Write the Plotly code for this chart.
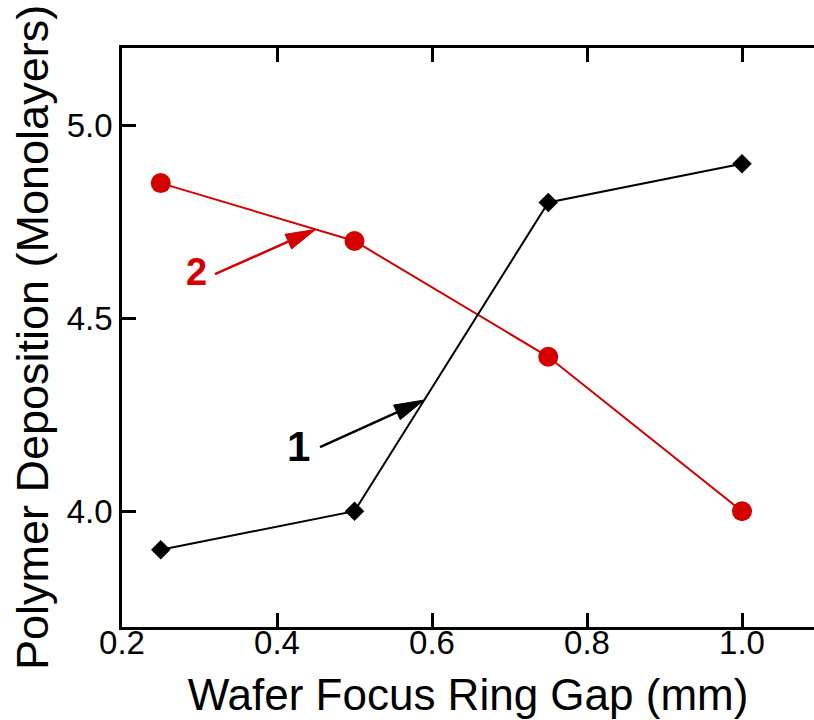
import numpy as np
import plotly.graph_objects as go

# Measured deposition vs. wafer / focus-ring gap
gap_mm = [0.25, 0.5, 0.75, 1.0]
deposition_1 = [3.9, 4.0, 4.8, 4.9]      # series 1 (black diamonds)
deposition_2 = [4.85, 4.7, 4.4, 4.0]     # series 2 (red circles)

x_ticks = [0.2, 0.4, 0.6, 0.8, 1.0]
y_ticks = [4.0, 4.5, 5.0]

# Callout labels: text position, arrow tail and arrow tip (data units)
labels = ["1", "2"]
label_xy = [(0.428, 4.168), (0.2955, 4.619)]
arrow_tail = [(0.4555, 4.166), (0.320, 4.614)]
arrow_tip = [(0.59, 4.288), (0.45, 4.73)]

RED = "#d40000"
BLACK = "#000000"
label_colors = [BLACK, RED]
label_sizes = [42, 38]

FONT = "Liberation Sans, Arial, Helvetica, sans-serif"
W, H = 814, 720
ML, MR, MT, MB = 122, 0, 48, 93
X_RANGE = [0.2, 0.2 + (W - ML - MR) / 775.0]
Y_RANGE = [3.7, 5.2]

# pixel scale of each axis, used to keep arrowheads undistorted
kx = (W - ML - MR) / (X_RANGE[1] - X_RANGE[0])
ky = (H - MT - MB) / (Y_RANGE[1] - Y_RANGE[0])

fig = go.Figure()

fig.add_trace(go.Scatter(
    x=gap_mm, y=deposition_2, mode="lines+markers",
    line=dict(color=RED, width=2),
    marker=dict(symbol="circle", size=20, color=RED),
    hoverinfo="skip",
))
fig.add_trace(go.Scatter(
    x=gap_mm, y=deposition_1, mode="lines+markers",
    line=dict(color=BLACK, width=2),
    marker=dict(symbol="diamond", size=15, color=BLACK),
    hoverinfo="skip",
))

# Arrows: shaft plus a slender filled head, built in pixel space
HEAD_LEN, HEAD_W = 30.0, 16.0
for (tx, ty), (hx, hy), col in zip(arrow_tail, arrow_tip, label_colors):
    dxp, dyp = (hx - tx) * kx, (hy - ty) * ky
    n = np.hypot(dxp, dyp)
    ux, uy = dxp / n, dyp / n
    bx, by = hx - HEAD_LEN * ux / kx, hy - HEAD_LEN * uy / ky
    px, py = -uy * HEAD_W / 2, ux * HEAD_W / 2
    fig.add_trace(go.Scatter(
        x=[tx, bx + 0.3 * HEAD_LEN * ux / kx], y=[ty, by + 0.3 * HEAD_LEN * uy / ky],
        mode="lines", line=dict(color=col, width=2.5), hoverinfo="skip",
    ))
    fig.add_trace(go.Scatter(
        x=[hx, bx + px / kx, bx - px / kx, hx],
        y=[hy, by + py / ky, by - py / ky, hy],
        mode="lines", fill="toself", fillcolor=col,
        line=dict(color=col, width=1), hoverinfo="skip",
    ))

for txt, (lx, ly), col, sz in zip(labels, label_xy, label_colors, label_sizes):
    fig.add_annotation(
        x=lx, y=ly, text=f"<b>{txt}</b>", showarrow=False,
        font=dict(family=FONT, size=sz, color=col),
        xanchor="center", yanchor="middle",
    )

axis_common = dict(
    showgrid=False, zeroline=False, ticks="inside", ticklen=14,
    tickwidth=3, tickcolor=BLACK, linecolor=BLACK, linewidth=2.5,
    automargin=False,
)

fig.update_layout(
    width=W, height=H,
    margin=dict(l=ML, r=MR, t=MT, b=MB, pad=0),
    plot_bgcolor="white", paper_bgcolor="white",
    showlegend=False,
    font=dict(family=FONT, color=BLACK),
    xaxis=dict(
        range=X_RANGE, tickvals=x_ticks, tickformat=".1f",
        showline=True, mirror="ticks", ticklabelstandoff=-15,
        tickfont=dict(family=FONT, size=33, color=BLACK),
        title=dict(text="Wafer Focus Ring Gap (mm)",
                   font=dict(family=FONT, size=44, color=BLACK), standoff=19),
        **axis_common,
    ),
    yaxis=dict(
        range=Y_RANGE, tickvals=y_ticks, tickformat=".1f",
        showline=True, mirror=False,
        tickfont=dict(family=FONT, size=33, color=BLACK),
        title=dict(text="Polymer Deposition (Monolayers)",
                   font=dict(family=FONT, size=45, color=BLACK), standoff=5),
        **axis_common,
    ),
    yaxis2=dict(
        range=Y_RANGE, tickvals=y_ticks, overlaying="y", side="right",
        anchor="x", showline=False, showticklabels=False,
        **axis_common,
    ),
)

fig.write_html("out.html")
